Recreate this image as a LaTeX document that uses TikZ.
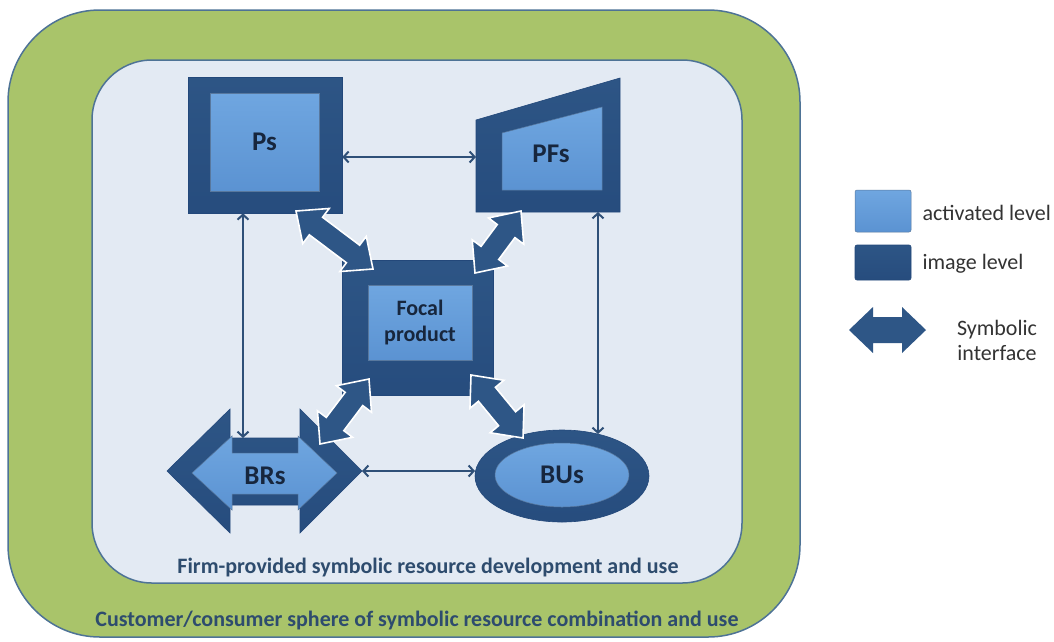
\documentclass[tikz,border=0pt]{standalone}
\usepackage{fontspec}
\setmainfont{Carlito}
\usetikzlibrary{calc,arrows.meta,shapes.geometric}

\definecolor{greenfill}{HTML}{A9C46A}
\definecolor{frameline}{HTML}{4E7396}
\definecolor{panel}{HTML}{E3EAF3}
\definecolor{navy}{HTML}{2E5686}
\definecolor{navytop}{HTML}{5085BD}
\definecolor{navybot}{HTML}{23487A}
\definecolor{skytop}{HTML}{9CC8F0}
\definecolor{skymid}{HTML}{6FA6E0}
\definecolor{skybot}{HTML}{5189CB}
\definecolor{linkblue}{HTML}{2F5078}
\definecolor{labeltext}{HTML}{17263D}
\definecolor{captiontext}{HTML}{2E4C6E}
\definecolor{legendtext}{HTML}{333333}

% bevelled fills: lighter rim on top
\pgfdeclareverticalshading{imagefill}{100bp}{color(0bp)=(navybot); color(80bp)=(navy); color(92bp)=(navy); color(100bp)=(navytop)}
\pgfdeclareverticalshading{activefill}{100bp}{color(0bp)=(skybot); color(75bp)=(skymid); color(92bp)=(skymid); color(100bp)=(skytop)}

% double-headed block arrow between two tips:
% #2,#3 tips, #4 head length, #5 head half width, #6 shaft half width
\newcommand\blockarrow[6][]{%
  \path[symarrow,#1]
    (#2)
    -- ($(#2)!#4!(#3)!#5!90:(#3)$)
    -- ($(#2)!#4!(#3)!#6!90:(#3)$)
    -- ($(#3)!#4!(#2)!#6!-90:(#2)$)
    -- ($(#3)!#4!(#2)!#5!-90:(#2)$)
    -- (#3)
    -- ($(#3)!#4!(#2)!#5!90:(#2)$)
    -- ($(#3)!#4!(#2)!#6!90:(#2)$)
    -- ($(#2)!#4!(#3)!#6!-90:(#3)$)
    -- ($(#2)!#4!(#3)!#5!-90:(#3)$)
    -- cycle;}

\tikzset{
  imagelevel/.style={shading=imagefill, draw=navybot, line width=0.6},
  activelevel/.style={shading=activefill, draw=navy!80, line width=0.5},
  boxlabel/.style={font=\bfseries\fontsize{27}{30}\selectfont, text=labeltext},
  link/.style={draw=linkblue, line width=2, {Straight Barb[length=5pt,width=11pt]}-{Straight Barb[length=5pt,width=11pt]}},
  symarrow/.style={fill=navy, draw=white, line width=1.6, line join=miter},
  caption/.style={font=\bfseries\fontsize{22}{26}\selectfont, text=captiontext},
  legendlabel/.style={font=\fontsize{22}{25}\selectfont, text=legendtext},
}

\begin{document}
\begin{tikzpicture}[x=1pt,y=-1pt]
\useasboundingbox (0,0) rectangle (1054,641);
\fill[white] (0,0) rectangle (1054,641);

% customer sphere and firm sphere
\draw[fill=greenfill, draw=frameline, line width=1.5, rounded corners=92]
  (8,10) rectangle (800,637);
\draw[fill=panel, draw=frameline, line width=1.5, rounded corners=60]
  (92,60) rectangle (742,583);
\node[caption] (firm) at (428,567) {Firm-provided symbolic resource development and use};
\node[caption] (cust) at (417,620) {Customer/consumer sphere of symbolic resource combination and use};

% Ps
\node[imagelevel, minimum width=154, minimum height=136, inner sep=0] (ps) at (265,145) {};
\node[activelevel, minimum width=109, minimum height=98, inner sep=0] (psin) at (264.5,142) {};
\node[boxlabel] (pslab) at (psin) {Ps};

% PFs
\path[imagelevel] (476,120) -- (620,78) -- (620,212) -- (476,212) -- cycle;
\path[activelevel] (502,133) -- (602,107) -- (602,190) -- (502,190) -- cycle;
\node[boxlabel] (pfs) at (551,154) {PFs};
\coordinate (pfsw) at (476,157);
\coordinate (pfss) at (598,212);

% Focal product
\node[imagelevel, minimum width=151, minimum height=135, inner sep=0] (focal) at (417.5,327.5) {};
\node[activelevel, minimum width=104, minimum height=75, inner sep=0] (focalin) at (420,322.5) {};
\node[font=\bfseries\fontsize{22}{26}\selectfont, text=labeltext, align=center] (focallab) at (focalin) {Focal\\product};

% BRs
\path[imagelevel] (167,471) -- (230,409) -- (230,438) -- (300,438) -- (300,409) -- (362,471)
  -- (300,533) -- (300,505) -- (230,505) -- (230,533) -- cycle;
\path[activelevel] (192,473) -- (232,436) -- (232,453) -- (298,453) -- (298,436) -- (337,473)
  -- (298,510) -- (298,494) -- (232,494) -- (232,510) -- cycle;
\node[boxlabel] (brs) at (265,476) {BRs};
\coordinate (brse) at (362,471);
\coordinate (brsn) at (243,438);

% BUs
\node[imagelevel, ellipse, minimum width=174, minimum height=92, inner sep=0] (bus) at (562,476) {};
\node[activelevel, ellipse, minimum width=134, minimum height=64, inner sep=0] (busin) at (562,475) {};
\node[boxlabel] (buslab) at (busin) {BUs};
\coordinate (busw) at (475,471);
\coordinate (busn) at (598,434);

% thin links
\draw[link] (ps.east |- pfsw) -- (pfsw);
\draw[link] (ps.south -| brsn) -- (brsn);
\draw[link] (pfss) -- (busn);
\draw[link] (brse) -- (busw);

% symbolic interfaces
\coordinate (i1a) at (296,211);
\coordinate (i1b) at (373,269);
\coordinate (i2a) at (521,211);
\coordinate (i2b) at (475,273);
\coordinate (i3a) at (369,379);
\coordinate (i3b) at (320,444);
\coordinate (i4a) at (471,375);
\coordinate (i4b) at (523,438);
\blockarrow{i1a}{i1b}{25pt}{22pt}{11pt}
\blockarrow{i2a}{i2b}{25pt}{22pt}{11pt}
\blockarrow{i3a}{i3b}{25pt}{22pt}{11pt}
\blockarrow{i4a}{i4b}{25pt}{22pt}{11pt}

% legend
\path[activelevel, rounded corners=2] (855,190) rectangle (911,232);
\node[legendlabel, anchor=west] (lact) at (919,213) {activated level};
\path[imagelevel, rounded corners=2] (855,245) rectangle (911,280);
\node[legendlabel, anchor=west] (limg) at (919,264) {image level};
\coordinate (leg1) at (849,330);
\coordinate (leg2) at (926,330);
\blockarrow[draw=none]{leg1}{leg2}{24pt}{23pt}{13pt}
\node[legendlabel, align=center] (lsym) at (997,340) {Symbolic\\interface};
\end{tikzpicture}
\end{document}
